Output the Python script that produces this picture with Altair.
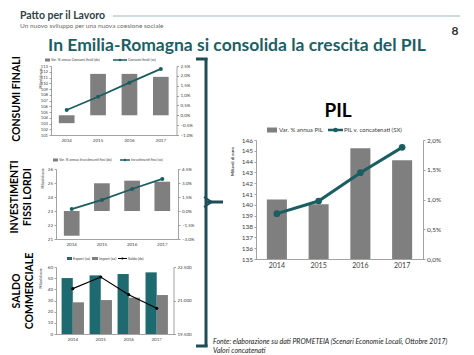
import altair as alt
import pandas as pd

# ---------------- data ----------------
years = ["2014", "2015", "2016", "2017"]

cons_var = [-0.4, 2.1, 2.1, 1.95]            # Var. % annua Consumi finali (dx)
cons_level = [105.35, 107.66, 110.1, 112.5]  # Consumi finali (sx)

inv_var = [-2.65, 2.97, 3.25, 3.14]          # Var. % annua Investimenti fissi (dx)
inv_level = [23.14, 23.79, 24.57, 25.29]     # Investimenti fissi (sx)

export_vals = [50.1, 52.5, 53.7, 55.2]       # Export (sx)
import_vals = [28.4, 30.4, 32.5, 34.9]       # Import (sx)
saldo_vals = [21530, 22050, 21260, 20650]    # Saldo (dx)

pil_var = [1.0, 0.92, 1.86, 1.66]            # Var. % annua PIL
pil_level = [139.19, 140.36, 142.98, 145.32] # PIL v. concatenati (SX)

cons_ticks_left = list(range(101, 114))
cons_ticks_right = [-1.0, -0.5, 0.0, 0.5, 1.0, 1.5, 2.0, 2.5]
inv_ticks_left = [21, 22, 23, 24, 25, 26]
inv_ticks_right = [-3.0, -1.5, 0.0, 1.5, 3.0, 4.5]
saldo_ticks_left = [0, 10, 20, 30, 40, 50, 60]
saldo_ticks_right = [19500, 21000, 22500]
pil_ticks_left = list(range(135, 147))
pil_ticks_right = [0.0, 0.5, 1.0, 1.5, 2.0]

serie_names = ["Export (sx)", "Import (sx)"]

# ---------------- texts ----------------
HEAD = "Patto per il Lavoro"
SUBHEAD = "Un nuovo sviluppo per una nuova coesione sociale"
PAGE = "8"
TITLE = "In Emilia-Romagna si consolida la crescita del PIL"
PIL_TITLE = "PIL"
SRC1 = "Fonte: elaborazione su dati PROMETEIA (Scenari Economie Locali, Ottobre 2017)"
SRC2 = "Valori concatenati"
YTITLE = "Miliardi di euro"
LEG_CONS = ["Var. % annua Consumi finali (dx)", "Consumi finali (sx)"]
LEG_INV = ["Var. % annua Investimenti fissi (dx)", "Investimenti fissi (sx)"]
LEG_SALDO = ["Export (sx)", "Import (sx)", "Saldo (dx)"]
LEG_PIL = ["Var. % annua PIL", "PIL v. concatenati (SX)"]

# ---------------- style ----------------
W, H = 474, 355
GRAY = "#7f7f7f"
TEAL = "#1b5e62"
TEAL2 = "#1d6a70"
AXC = "#8c8c8c"
LBL = "#404040"
DARK = "#1d4d58"
FONT_S = "Lato"

PCT = "replace(format(datum.value, '.1f'), '.', ',') + '%'"
INT = "format(datum.value, 'd')"
THOU = "replace(format(datum.value, ',.0f'), ',', '.')"

DUMMY = pd.DataFrame({"d": [0]})


def ax_y(orient, xpos, values, expr, size, title=None, tx=0, ty=0, tsize=3):
    d = dict(orient=orient, offset=(-xpos if orient == "left" else xpos - W),
             values=values, labelExpr=expr, labelFontSize=size, labelFont=FONT_S,
             labelColor=LBL, labelPadding=1.5, tickSize=2, tickColor=AXC,
             tickWidth=0.8, domainColor=AXC, domainWidth=0.8, grid=False,
             labelOverlap=False, labelFlush=False)
    if title:
        d.update(title=title, titleX=tx, titleY=ty, titleAngle=270,
                 titleAlign="center", titleBaseline="middle", titleFontSize=tsize,
                 titleFontWeight="bold", titleFont=FONT_S, titleColor="#333333")
    else:
        d["title"] = None
    return alt.Axis(**d)


def ax_x(ypos, size):
    return alt.Axis(orient="bottom", offset=ypos - H, labelFontSize=size,
                    labelFont=FONT_S, labelColor=LBL, labelAngle=0, labelPadding=2.5,
                    ticks=False, domainColor=AXC, domainWidth=0.8, grid=False,
                    title=None)


def xscale(r, pi, po):
    return alt.Scale(type="band", range=r, paddingInner=pi, paddingOuter=po)


def yscale(dom, r):
    return alt.Scale(domain=dom, range=r, nice=False, zero=False)


def txt(s, x, y, size, **kw):
    return alt.Chart(DUMMY).mark_text(text=s, fontSize=size, **kw).encode(
        x=alt.value(x), y=alt.value(y))


def rect(x1, x2, y1, y2, color):
    return alt.Chart(DUMMY).mark_rect(color=color).encode(
        x=alt.value(x1), x2=alt.value(x2), y=alt.value(y1), y2=alt.value(y2))


def rule(x1, x2, y1, y2, color, w):
    return alt.Chart(DUMMY).mark_rule(color=color, strokeWidth=w).encode(
        x=alt.value(x1), x2=alt.value(x2), y=alt.value(y1), y2=alt.value(y2))


def dot(x, y, color, size):
    return alt.Chart(DUMMY).mark_circle(color=color, size=size, opacity=1).encode(
        x=alt.value(x), y=alt.value(y))


# ---------------- chart 1: consumi finali ----------------
df1 = pd.DataFrame({"year": years, "var": cons_var, "level": cons_level})
X1 = xscale([51, 176.5], 0.5, 0.25)
c1 = alt.layer(
    alt.Chart(df1).mark_bar(color=GRAY).encode(
        x=alt.X("year:O", scale=X1, axis=ax_x(135, 4.5)),
        y=alt.Y("var:Q", scale=yscale([-1, 2.5], [135, 66]),
                axis=ax_y("right", 176.5, cons_ticks_right, PCT, 4.5)),
        y2=alt.datum(0),
    ),
    alt.Chart(df1).mark_line(color=TEAL, strokeWidth=1.8,
                             point=alt.OverlayMarkDef(color=TEAL, size=16, filled=True)).encode(
        x=alt.X("year:O", scale=X1),
        y=alt.Y("level:Q", scale=yscale([101, 113], [135, 66]),
                axis=ax_y("left", 51, cons_ticks_left, INT, 4.2, YTITLE, -11, 78, 3)),
    ),
).resolve_scale(y="independent")

# ---------------- chart 2: investimenti ----------------
df2 = pd.DataFrame({"year": years, "var": inv_var, "level": inv_level})
X2 = xscale([56, 178], 0.48, 0.26)
c2 = alt.layer(
    alt.Chart(df2).mark_bar(color=GRAY).encode(
        x=alt.X("year:O", scale=X2, axis=ax_x(239, 4.5)),
        y=alt.Y("var:Q", scale=yscale([-3, 4.5], [239, 169]),
                axis=ax_y("right", 178, inv_ticks_right, PCT, 4.5)),
        y2=alt.datum(0),
    ),
    alt.Chart(df2).mark_line(color=TEAL, strokeWidth=1.8,
                             point=alt.OverlayMarkDef(color=TEAL, size=16, filled=True)).encode(
        x=alt.X("year:O", scale=X2),
        y=alt.Y("level:Q", scale=yscale([21, 26], [239, 169]),
                axis=ax_y("left", 56, inv_ticks_left, INT, 4.5, YTITLE, -14, 178, 3)),
    ),
).resolve_scale(y="independent")

# ---------------- chart 3: saldo commerciale ----------------
df3 = pd.DataFrame({"year": years * 2,
                    "serie": [serie_names[0]] * 4 + [serie_names[1]] * 4,
                    "val": export_vals + import_vals})
df3s = pd.DataFrame({"year": years, "saldo": saldo_vals})
X3 = xscale([56, 173.5], 0.2, 0.2)
c3 = alt.layer(
    alt.Chart(df3).mark_bar().encode(
        x=alt.X("year:O", scale=X3, axis=ax_x(334, 4.5)),
        xOffset=alt.XOffset("serie:N", sort=serie_names),
        y=alt.Y("val:Q", scale=yscale([0, 60], [334, 267]),
                axis=ax_y("left", 56, saldo_ticks_left, INT, 4.5, YTITLE, -16, 278, 3)),
        color=alt.Color("serie:N", scale=alt.Scale(domain=serie_names, range=[TEAL2, GRAY]),
                        legend=None),
    ),
    alt.Chart(df3s).mark_line(color="black", strokeWidth=1.2,
                              point=alt.OverlayMarkDef(color="black", size=10, filled=True)).encode(
        x=alt.X("year:O", scale=X3),
        y=alt.Y("saldo:Q", scale=yscale([19500, 22500], [334, 267]),
                axis=ax_y("right", 173.5, saldo_ticks_right, THOU, 4.5)),
    ),
).resolve_scale(y="independent")

# ---------------- PIL ----------------
dfp = pd.DataFrame({"year": years, "var": pil_var, "level": pil_level})
XP = xscale([256, 423], 0.52, 0.26)
cp = alt.layer(
    alt.Chart(dfp).mark_bar(color=GRAY).encode(
        x=alt.X("year:O", scale=XP, axis=ax_x(259, 7)),
        y=alt.Y("var:Q", scale=yscale([0, 2], [259, 140]),
                axis=ax_y("right", 423, pil_ticks_right, PCT, 6.5)),
    ),
    alt.Chart(dfp).mark_line(color=TEAL, strokeWidth=3,
                             point=alt.OverlayMarkDef(color=TEAL, size=45, filled=True)).encode(
        x=alt.X("year:O", scale=XP),
        y=alt.Y("level:Q", scale=yscale([135, 146], [259, 140]),
                axis=ax_y("left", 256, pil_ticks_left, INT, 6.5, YTITLE, -24, 161, 4.3)),
    ),
).resolve_scale(y="independent")

# ---------------- decorations ----------------
LF = dict(font=FONT_S, color=LBL, align="left", baseline="middle")
VL = dict(font=FONT_S, fontWeight="bold", color="black", angle=270,
          align="center", baseline="middle")
deco = [
    # header
    txt(HEAD, 20, 19, 10.5, font=FONT_S, fontWeight="bold", color="#2e3f46",
        align="left", baseline="alphabetic"),
    txt(SUBHEAD, 20, 27.5, 6.5, font=FONT_S, color="#6b6b6b", align="left",
        baseline="alphabetic"),
    rule(113, 460, 16, 16, "#9ab7b9", 1),
    txt(PAGE, 455, 35, 12, font=FONT_S, fontWeight="bold", color="#333333",
        align="center", baseline="alphabetic"),
    txt(TITLE, 237, 51, 17.5, font=FONT_S, fontWeight="bold", color="#1b5f66",
        align="center", baseline="alphabetic"),
    # section labels
    txt("CONSUMI FINALI", 17, 99, 10.5, **VL),
    txt("INVESTIMENTI", 14.5, 197, 10.5, **VL),
    txt("FISSI LORDI", 28, 197, 10.5, **VL),
    txt("SALDO", 16.5, 291, 10.5, **VL),
    txt("COMMERCIALE", 30, 291, 10.5, **VL),
    # bracket
    rule(206, 206, 58, 347, DARK, 3),
    rule(196, 207.5, 59, 59, DARK, 3),
    rule(196, 207.5, 346, 346, DARK, 3),
    rule(206, 223, 202, 202, DARK, 3),
    rule(204, 212, 197, 202, DARK, 2),
    rule(204, 212, 207, 202, DARK, 2),
    # PIL title and source
    txt(PIL_TITLE, 338, 117, 19, font=FONT_S, fontWeight="bold", color="black",
        align="center", baseline="alphabetic"),
    txt(SRC1, 213, 341.5, 7, font=FONT_S, fontStyle="italic", color="#222222",
        align="left", baseline="middle"),
    txt(SRC2, 213, 350.5, 7, font=FONT_S, fontStyle="italic", color="#222222",
        align="left", baseline="middle"),
    # legend chart 1
    rect(45, 50, 58.5, 61.5, GRAY),
    txt(LEG_CONS[0], 51, 60, 3.5, **LF),
    rule(113, 127, 60, 60, TEAL, 1.5),
    dot(120, 60, TEAL, 6),
    txt(LEG_CONS[1], 128, 60, 3.5, **LF),
    # legend chart 2
    rect(53, 58, 158.5, 161.5, GRAY),
    txt(LEG_INV[0], 59, 160, 3.5, **LF),
    rule(120, 130, 160, 160, TEAL, 1.5),
    dot(125, 160, TEAL, 6),
    txt(LEG_INV[1], 131, 160, 3.5, **LF),
    # legend chart 3
    rect(67, 72, 257, 260, TEAL2),
    txt(LEG_SALDO[0], 73, 258.5, 3.7, **LF),
    rect(92, 98, 257, 260, GRAY),
    txt(LEG_SALDO[1], 99, 258.5, 3.7, **LF),
    rule(118, 127, 258.5, 258.5, "black", 1),
    dot(122.5, 258.5, "black", 5),
    txt(LEG_SALDO[2], 128, 258.5, 3.7, **LF),
    # legend PIL
    rect(267, 277, 127.5, 132.5, GRAY),
    txt(LEG_PIL[0], 279, 130, 6, **LF),
    rule(328, 343, 130, 130, TEAL, 2.5),
    dot(335.5, 130, TEAL, 22),
    txt(LEG_PIL[1], 344, 130, 6, **LF),
]

chart = alt.layer(c1, c2, c3, cp, *deco).resolve_scale(
    x="independent", y="independent"
).properties(
    width=W, height=H, padding=0,
    autosize=alt.AutoSizeParams(type="none"),
    background="white",
).configure_view(stroke=None)

chart.save("out.html", embed_options={"renderer": "svg", "actions": False})
